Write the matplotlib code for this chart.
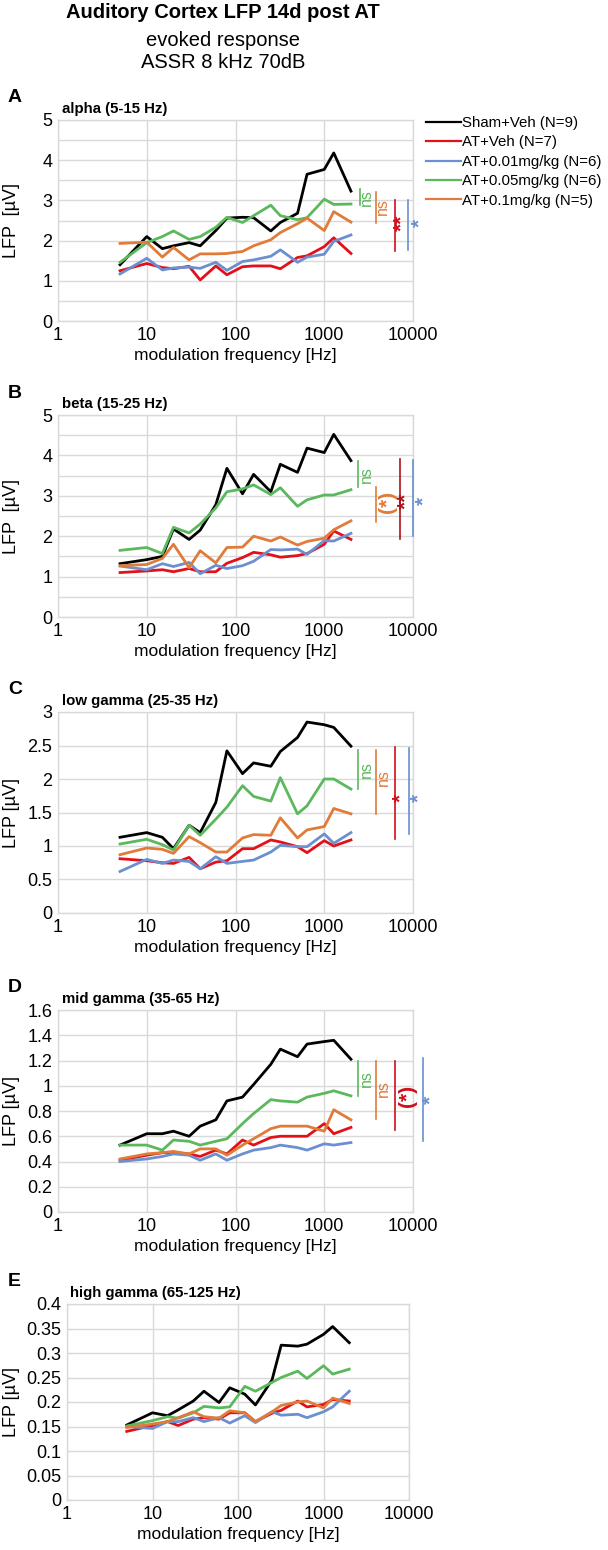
import matplotlib
matplotlib.use("Agg")
import matplotlib.pyplot as plt
from matplotlib.ticker import FixedLocator

plt.rcParams["font.family"] = ["Liberation Sans", "DejaVu Sans"]

FREQS = [5, 10, 15, 20, 30, 40, 60, 80, 120, 160, 250, 320, 500, 640, 1000, 1280, 2000]
GROUPS = ["Sham+Veh (N=9)", "AT+Veh (N=7)", "AT+0.01mg/kg (N=6)",
          "AT+0.05mg/kg (N=6)", "AT+0.1mg/kg (N=5)"]
COLORS = ["#000000", "#E3101A", "#6B8FD0", "#5BB85C", "#E07B39"]

# order of series: Sham+Veh, AT+Veh, AT+0.01, AT+0.05, AT+0.1
alpha = [
    [1.4, 2.1, 1.8, 1.87, 1.95, 1.87, 2.25, 2.56, 2.58, 2.57, 2.24, 2.45, 2.68, 3.65, 3.77, 4.18, 3.23],
    [1.25, 1.43, 1.33, 1.3, 1.36, 1.02, 1.37, 1.15, 1.35, 1.37, 1.37, 1.3, 1.58, 1.62, 1.85, 2.07, 1.68],
    [1.17, 1.56, 1.27, 1.32, 1.34, 1.31, 1.46, 1.26, 1.48, 1.52, 1.61, 1.77, 1.46, 1.59, 1.66, 1.98, 2.14],
    [1.46, 1.95, 2.1, 2.24, 2.03, 2.1, 2.33, 2.58, 2.45, 2.62, 2.88, 2.62, 2.52, 2.57, 3.03, 2.9, 2.91],
    [1.93, 1.96, 1.59, 1.83, 1.52, 1.67, 1.67, 1.68, 1.73, 1.87, 2.02, 2.2, 2.42, 2.56, 2.25, 2.72, 2.46],
]
beta = [
    [1.32, 1.42, 1.5, 2.18, 1.92, 2.15, 2.78, 3.68, 3.05, 3.53, 3.1, 3.78, 3.58, 4.18, 4.07, 4.52, 3.87],
    [1.1, 1.14, 1.17, 1.12, 1.2, 1.12, 1.12, 1.33, 1.47, 1.6, 1.54, 1.48, 1.52, 1.57, 1.8, 2.13, 1.92],
    [1.26, 1.17, 1.32, 1.25, 1.35, 1.07, 1.28, 1.2, 1.27, 1.38, 1.67, 1.66, 1.68, 1.55, 1.89, 1.88, 2.07],
    [1.65, 1.72, 1.57, 2.22, 2.08, 2.3, 2.7, 3.1, 3.17, 3.27, 3.03, 3.2, 2.74, 2.9, 3.02, 3.02, 3.15],
    [1.27, 1.3, 1.45, 1.8, 1.22, 1.64, 1.34, 1.72, 1.73, 2.0, 1.88, 1.98, 1.78, 1.87, 1.95, 2.16, 2.38],
]
low_gamma = [
    [1.13, 1.2, 1.13, 0.96, 1.31, 1.2, 1.65, 2.42, 2.08, 2.24, 2.19, 2.41, 2.62, 2.85, 2.81, 2.77, 2.49],
    [0.81, 0.78, 0.75, 0.74, 0.83, 0.66, 0.76, 0.78, 0.96, 0.96, 1.09, 1.06, 0.99, 0.9, 1.08, 1.0, 1.09],
    [0.62, 0.8, 0.74, 0.79, 0.77, 0.66, 0.84, 0.74, 0.77, 0.79, 0.91, 1.01, 0.99, 0.99, 1.18, 1.04, 1.2],
    [1.03, 1.1, 1.02, 0.94, 1.31, 1.16, 1.4, 1.58, 1.9, 1.74, 1.67, 2.02, 1.48, 1.6, 2.0, 2.0, 1.85],
    [0.87, 0.97, 0.95, 0.89, 1.14, 1.05, 0.91, 0.91, 1.12, 1.17, 1.16, 1.42, 1.12, 1.24, 1.29, 1.56, 1.48],
]
mid_gamma = [
    [0.53, 0.62, 0.62, 0.64, 0.6, 0.68, 0.73, 0.88, 0.91, 1.01, 1.17, 1.29, 1.23, 1.33, 1.35, 1.36, 1.21],
    [0.41, 0.45, 0.47, 0.47, 0.46, 0.44, 0.49, 0.46, 0.57, 0.53, 0.59, 0.6, 0.6, 0.6, 0.7, 0.62, 0.67],
    [0.4, 0.42, 0.44, 0.46, 0.45, 0.41, 0.46, 0.41, 0.46, 0.49, 0.51, 0.53, 0.51, 0.49, 0.54, 0.53, 0.55],
    [0.53, 0.53, 0.49, 0.57, 0.56, 0.53, 0.56, 0.58, 0.7, 0.78, 0.89, 0.88, 0.87, 0.91, 0.94, 0.96, 0.92],
    [0.42, 0.46, 0.47, 0.48, 0.46, 0.5, 0.5, 0.45, 0.53, 0.58, 0.66, 0.68, 0.68, 0.68, 0.64, 0.81, 0.73],
]
high_gamma = [
    [0.153, 0.178, 0.172, 0.184, 0.202, 0.222, 0.199, 0.229, 0.216, 0.194, 0.245, 0.316, 0.314, 0.318, 0.338, 0.354, 0.321],
    [0.14, 0.152, 0.16, 0.152, 0.165, 0.168, 0.165, 0.178, 0.178, 0.16, 0.177, 0.183, 0.202, 0.19, 0.195, 0.205, 0.202],
    [0.15, 0.146, 0.16, 0.16, 0.168, 0.16, 0.168, 0.157, 0.172, 0.158, 0.18, 0.173, 0.175, 0.168, 0.18, 0.19, 0.222],
    [0.151, 0.162, 0.17, 0.167, 0.178, 0.191, 0.188, 0.19, 0.232, 0.222, 0.24, 0.25, 0.263, 0.248, 0.274, 0.257, 0.267],
    [0.148, 0.155, 0.16, 0.168, 0.18, 0.17, 0.167, 0.182, 0.178, 0.16, 0.18, 0.193, 0.2, 0.202, 0.188, 0.208, 0.197],
]

BANDS = ["alpha (5-15 Hz)", "beta (15-25 Hz)", "low gamma (25-35 Hz)",
         "mid gamma (35-65 Hz)", "high gamma (65-125 Hz)"]
PANEL_LETTERS = ["A", "B", "C", "D", "E"]
YLABELS = ["LFP  [µV]", "LFP  [µV]", "LFP [µV]", "LFP [µV]", "LFP [µV]"]
YMAX = [5, 5, 3, 1.6, 0.4]
YTICK_STEP = [1, 1, 0.5, 0.2, 0.05]
YGRID_STEP = [0.5, 0.5, 0.5, 0.2, 0.05]
DATA = [alpha, beta, low_gamma, mid_gamma, high_gamma]

# significance brackets: (colour, x, y_low, y_high, label, label_x, label_y)
SIG = [
    [("#5BB85C", 2500, 2.88, 3.28, "ns", 2950, 3.08),
     ("#E07B39", 3850, 2.45, 3.22, "ns", 4550, 2.85),
     ("#D0101A", 6300, 1.75, 3.02, "**", 7500, 2.45),
     ("#6B8FD0", 8800, 1.76, 3.0, "*", 11800, 2.45)],
    [("#5BB85C", 2400, 3.23, 3.85, "ns", 2950, 3.52),
     ("#E07B39", 3850, 2.34, 3.22, "(*)", 5100, 2.85),
     ("#B0101A", 7200, 1.92, 3.91, "**", 8400, 2.88),
     ("#6B8FD0", 10000, 2.01, 3.89, "*", 13400, 2.88)],
    [("#5BB85C", 2400, 1.85, 2.44, "ns", 2950, 2.14),
     ("#E07B39", 3850, 1.48, 2.43, "ns", 4600, 2.02),
     ("#D0101A", 6350, 1.11, 2.48, "*", 7300, 1.72),
     ("#6B8FD0", 8900, 1.18, 2.47, "*", 11600, 1.72)],
    [("#5BB85C", 2400, 0.915, 1.2, "ns", 2950, 1.06),
     ("#E07B39", 3850, 0.735, 1.2, "ns", 4650, 0.98),
     ("#D0101A", 6350, 0.65, 1.2, "(*)", 8600, 0.92),
     ("#6B8FD0", 12800, 0.565, 1.22, "*", 15800, 0.89)],
    [],
]

W, H = 608, 1550
fig = plt.figure(figsize=(W / 100, H / 100), dpi=100)

# axes boxes in pixels: left, top, right, bottom
BOXES = [(58, 120, 413, 321), (58, 415, 413, 617), (58, 712, 413, 913),
         (58, 1010, 413, 1212), (67, 1304, 409, 1500)]

GRID = "#D9D9D9"

for i, (l, t, r, b) in enumerate(BOXES):
    ax = fig.add_axes([l / W, 1 - b / H, (r - l) / W, (b - t) / H])
    for k, vals in enumerate(DATA[i]):
        ax.plot(FREQS, vals, color=COLORS[k], lw=2.0, label=GROUPS[k], zorder=3)
    ax.set_xscale("log")
    ax.set_xlim(1, 10000)
    ax.set_ylim(0, YMAX[i])
    ax.xaxis.set_major_locator(FixedLocator([1, 10, 100, 1000, 10000]))
    ax.xaxis.set_minor_locator(FixedLocator([]))
    ax.set_xticklabels(["1", "10", "100", "1000", "10000"])
    n_t = int(round(YMAX[i] / YTICK_STEP[i]))
    ticks = [round(j * YTICK_STEP[i], 3) for j in range(n_t + 1)]
    ax.set_yticks(ticks)
    ax.set_yticklabels(["{:g}".format(v) for v in ticks])
    n_g = int(round(YMAX[i] / YGRID_STEP[i]))
    ax.set_yticks([round(j * YGRID_STEP[i], 3) for j in range(n_g + 1)], minor=True)
    ax.grid(True, which="both", axis="y", color=GRID, lw=1.0, zorder=0)
    ax.grid(True, which="major", axis="x", color=GRID, lw=1.0, zorder=0)
    ax.tick_params(which="both", length=0, labelsize=13, pad=4)
    for s in ax.spines.values():
        s.set_color(GRID)
        s.set_linewidth(1.0)
    ax.set_ylabel(YLABELS[i], fontsize=13)
    ax.yaxis.set_label_coords((20 - l) / (r - l), 0.5)
    ax.set_xlabel("modulation frequency [Hz]", fontsize=12.5, labelpad=3)
    ax.text(0.01, 1.02, BANDS[i], transform=ax.transAxes, fontsize=10.8,
            fontweight="bold", ha="left", va="bottom")
    fig.text(8 / W, 1 - (t - 22) / H, PANEL_LETTERS[i], fontsize=14,
             fontweight="bold", ha="left", va="center")
    for col, x, y0, y1, lab, lx, ly in SIG[i]:
        ax.plot([x, x], [y0, y1], color=col, lw=1.2, clip_on=False, zorder=4)
        star = lab != "ns"
        ax.text(lx, ly, lab, color=col, rotation=90, ha="center", va="center",
                fontsize=15 if star else 11.5, fontweight="bold" if star else "normal",
                clip_on=False)
    if i == 0:
        ax.legend(loc="upper left", bbox_to_anchor=(426 / W, 1 - 116 / H),
                  bbox_transform=fig.transFigure, frameon=False, fontsize=10.8,
                  handlelength=2.3, handletextpad=0.12, labelspacing=0.36,
                  borderpad=0, borderaxespad=0)
        for line in ax.get_legend().get_lines():
            line.set_linewidth(1.6)

fig.text(223 / W, 1 - 13 / H, "Auditory Cortex LFP 14d post AT", fontsize=14.5,
         fontweight="bold", ha="center", va="center")
fig.text(223 / W, 1 - 40 / H, "evoked response", fontsize=14.5, ha="center", va="center")
fig.text(223 / W, 1 - 63 / H, "ASSR 8 kHz 70dB", fontsize=14.5, ha="center", va="center")

fig.savefig("out.png", dpi=100)
